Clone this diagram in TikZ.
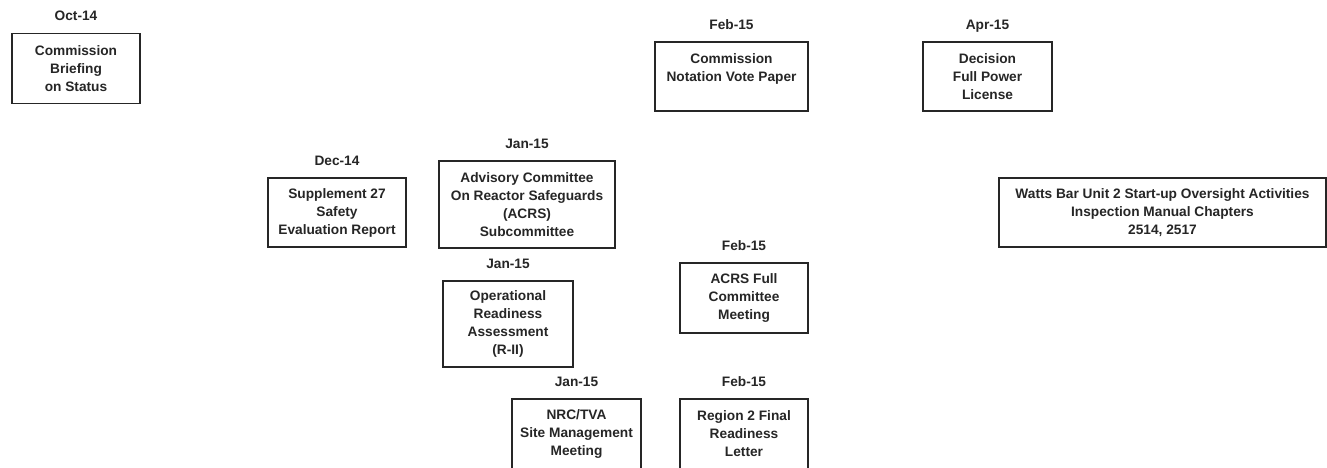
\documentclass[tikz,border=0pt]{standalone}
\usepackage{fontspec}
\setmainfont{Liberation Sans}
\begin{document}
\begin{tikzpicture}[x=1pt,y=-1pt,
  box/.style={draw=black!85, line width=1.4pt, rectangle, align=center, inner sep=0pt,
    font=\fontsize{13.7}{18}\selectfont\bfseries, text=black!85},
  datelbl/.style={font=\fontsize{13.7}{18}\selectfont\bfseries, text=black!85, inner sep=0pt,
    text height=9.8pt, text depth=0pt},
  every label/.style={datelbl},
  label distance=12pt]
\clip (0,0) rectangle (1327,468);
\fill[white] (0,0) rectangle (1327,468);

\node[box, minimum width=128pt, minimum height=70pt, label=above:Oct-14] (b1) at (76,68.5)
  {Commission\\Briefing\\on Status};
\node[box, minimum width=138pt, minimum height=69pt, label=above:Dec-14] (b2) at (337,212.5)
  {Supplement 27\\Safety\\Evaluation Report};
\node[box, minimum width=176pt, minimum height=87pt, label=above:Jan-15] (b3) at (527,204.5)
  {Advisory Committee\\On Reactor Safeguards\\(ACRS)\\Subcommittee};
\node[box, minimum width=153pt, minimum height=69pt, label=above:Feb-15] (b4) at (731.5,76.5)
  {Commission\\Notation Vote Paper\\\mbox{}};
\node[box, minimum width=129pt, minimum height=69pt, label=above:Apr-15] (b5) at (987.5,76.5)
  {Decision\\Full Power\\License};
\node[box, minimum width=327pt, minimum height=69pt] (b6) at (1162.5,212.5)
  {Watts Bar Unit 2 Start-up Oversight Activities\\Inspection Manual Chapters\\2514, 2517};
\node[box, minimum width=130pt, minimum height=86pt, label=above:Jan-15] (b7) at (508,324)
  {Operational\\Readiness\\Assessment\\(R-II)};
\node[box, minimum width=128pt, minimum height=70pt, label=above:Feb-15] (b8) at (744,298)
  {ACRS Full\\Committee\\Meeting};
\node[box, minimum width=129pt, minimum height=70pt, label=above:Jan-15] (b9) at (576.5,434)
  {NRC/TVA\\Site Management\\Meeting};
\node[box, minimum width=128pt, minimum height=70pt, label=above:Feb-15] (b10) at (744,434)
  {Region 2 Final\\Readiness\\Letter};
\end{tikzpicture}
\end{document}
